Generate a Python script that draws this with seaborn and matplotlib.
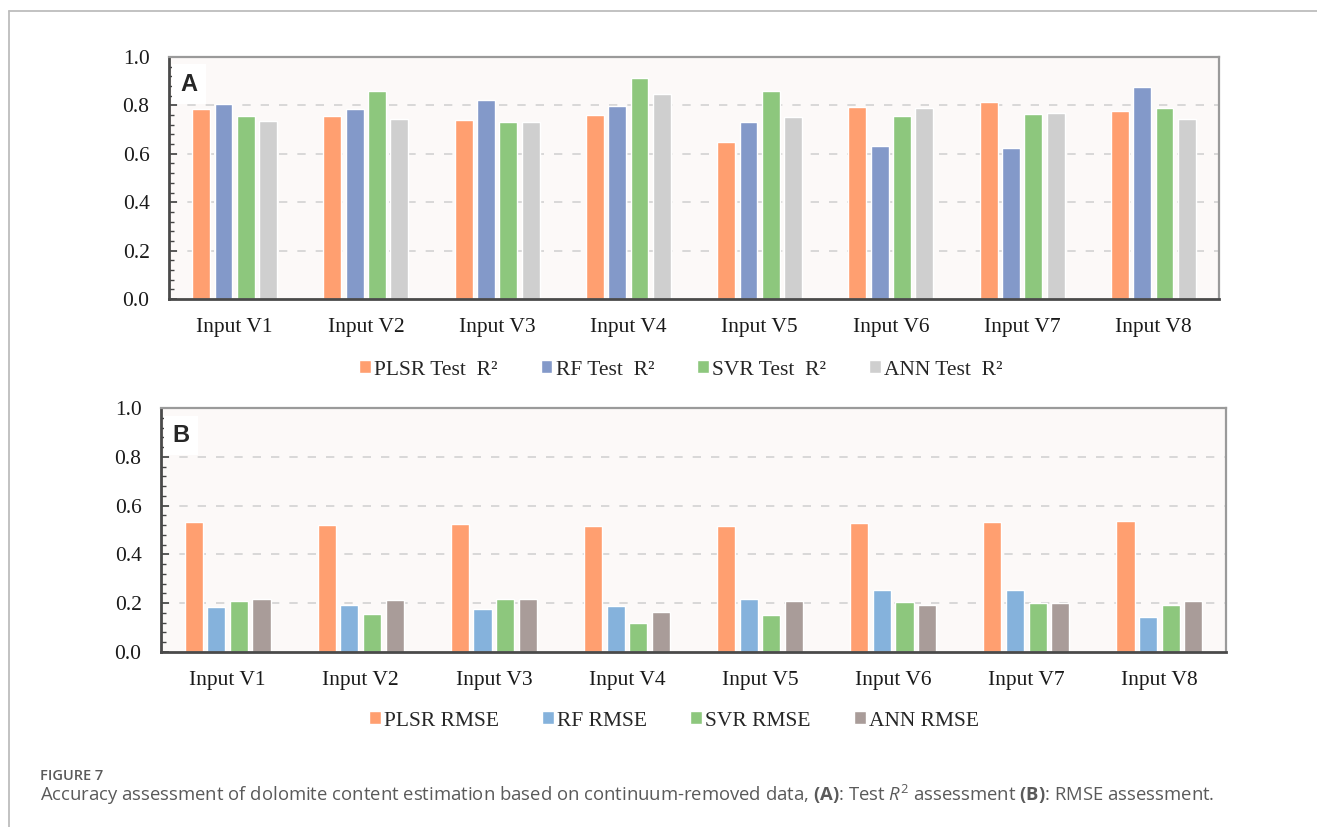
import matplotlib
matplotlib.use("Agg")
import numpy as np
import pandas as pd
import seaborn as sns
import matplotlib.pyplot as plt
from matplotlib.ticker import MultipleLocator
from matplotlib.lines import Line2D

# ---- data -------------------------------------------------------------
inputs = ["Input V1", "Input V2", "Input V3", "Input V4",
          "Input V5", "Input V6", "Input V7", "Input V8"]

r2_models = ["PLSR Test  R²", "RF Test  R²", "SVR Test  R²", "ANN Test  R²"]
plsr_r2 = [0.784, 0.755, 0.739, 0.759, 0.650, 0.792, 0.814, 0.775]
rf_r2 = [0.807, 0.787, 0.821, 0.796, 0.730, 0.634, 0.625, 0.877]
svr_r2 = [0.755, 0.860, 0.732, 0.914, 0.860, 0.755, 0.766, 0.788]
ann_r2 = [0.735, 0.744, 0.730, 0.848, 0.753, 0.789, 0.770, 0.744]

rmse_models = ["PLSR RMSE", "RF RMSE", "SVR RMSE", "ANN RMSE"]
plsr_rmse = [0.531, 0.520, 0.525, 0.517, 0.515, 0.529, 0.534, 0.537]
rf_rmse = [0.183, 0.193, 0.176, 0.189, 0.217, 0.253, 0.255, 0.145]
svr_rmse = [0.208, 0.155, 0.216, 0.120, 0.153, 0.206, 0.202, 0.191]
ann_rmse = [0.216, 0.212, 0.218, 0.163, 0.208, 0.191, 0.199, 0.210]

y_ticks = [0.0, 0.2, 0.4, 0.6, 0.8, 1.0]

r2_colors = ["#FF9F70", "#8399C9", "#8DC77D", "#CFCFCF"]
rmse_colors = ["#FF9F70", "#85B2DC", "#8DC77D", "#A99C99"]


def long_frame(models, series):
    rows = []
    for m, vals in zip(models, series):
        for cat, v in zip(inputs, vals):
            rows.append({"input": cat, "model": m, "value": v})
    return pd.DataFrame(rows)


df_r2 = long_frame(r2_models, [plsr_r2, rf_r2, svr_r2, ann_r2])
df_rmse = long_frame(rmse_models, [plsr_rmse, rf_rmse, svr_rmse, ann_rmse])

# ---- style ------------------------------------------------------------
sns.set_theme(style="white")
plt.rcParams["font.family"] = ["Liberation Serif", "DejaVu Serif"]
plt.rcParams["mathtext.fontset"] = "custom"
plt.rcParams["mathtext.rm"] = "Open Sans"
plt.rcParams["mathtext.it"] = "Open Sans:italic"
plt.rcParams["mathtext.bf"] = "Open Sans:bold"

W, H = 1317, 827
fig = plt.figure(figsize=(W / 100, H / 100), dpi=100)
fig.patch.set_facecolor("white")

ax_a = fig.add_axes([169 / W, 1 - 299 / H, (1219 - 169) / W, (299 - 57) / H])
ax_b = fig.add_axes([161 / W, 1 - 652 / H, (1226 - 161) / W, (652 - 408) / H])


def draw_panel(ax, df, models, colors, letter):
    sns.barplot(data=df, x="input", y="value", hue="model", hue_order=models,
                order=inputs, palette=colors, width=0.68, gap=0.2,
                saturation=1, ax=ax, errorbar=None, legend=True)
    ax.set_facecolor("#FCF9F8")
    ax.set_ylim(0, 1.0)
    ax.set_xlim(-0.5, len(inputs) - 0.5)
    ax.set_yticks(y_ticks)
    ax.set_yticklabels([f"{t:.1f}" for t in y_ticks])
    ax.yaxis.set_minor_locator(MultipleLocator(0.04))
    ax.set_xlabel("")
    ax.set_ylabel("")
    ax.tick_params(axis="y", which="major", direction="in", length=6,
                   width=1.2, color="#444444", labelsize=15.5, pad=14,
                   left=True)
    ax.tick_params(axis="y", which="minor", direction="in", length=3.5,
                   width=1.0, color="#444444", left=True)
    ax.tick_params(axis="x", length=0, labelsize=15.5, pad=14)
    for lbl in ax.get_xticklabels() + ax.get_yticklabels():
        lbl.set_color("#1a1a1a")
    for g in [0.2, 0.4, 0.6, 0.8]:
        ax.axhline(g, color="#D2D2D2", lw=1.2, ls=(0, (5, 6)), zorder=0)
    for side in ["left", "bottom"]:
        ax.spines[side].set_color("#4a4a4a")
        ax.spines[side].set_linewidth(2.0)
    for side in ["top", "right"]:
        ax.spines[side].set_color("#9a9a9a")
        ax.spines[side].set_linewidth(1.6)
    ax.text(0.011, 0.935, letter, transform=ax.transAxes, fontsize=17,
            fontweight="bold", family="Liberation Sans", va="top",
            ha="left", zorder=5,
            bbox=dict(boxstyle="square,pad=0.35", fc="white", ec="none"))
    handles, labels = ax.get_legend_handles_labels()
    ax.get_legend().remove()
    return handles, labels


h_a, l_a = draw_panel(ax_a, df_r2, r2_models, r2_colors, "A")
h_b, l_b = draw_panel(ax_b, df_rmse, rmse_models, rmse_colors, "B")

fig.legend(h_a, l_a, loc="center", bbox_to_anchor=(681 / W, 1 - 370 / H),
           ncol=4, frameon=False, fontsize=15.5, handlelength=0.55,
           handleheight=0.55, handletextpad=0.15, columnspacing=2.0)
fig.legend(h_b, l_b, loc="center", bbox_to_anchor=(674 / W, 1 - 721 / H),
           ncol=4, frameon=False, fontsize=15.5, handlelength=0.55,
           handleheight=0.55, handletextpad=0.15, columnspacing=2.0)

# ---- page frame and caption ------------------------------------------
fig.add_artist(Line2D([9 / W, 1.0], [1 - 11 / H, 1 - 11 / H],
                      transform=fig.transFigure, color="#BDBDBD", lw=1.3))
fig.add_artist(Line2D([9 / W, 9 / W], [1 - 11 / H, 0.0],
                      transform=fig.transFigure, color="#BDBDBD", lw=1.3))

fig.text(40 / W, 1 - 776 / H, "FIGURE 7", family="Open Sans",
         fontsize=10.5, color="#5a5a5a", va="center", ha="left",
         fontweight="semibold")
fig.text(40 / W, 1 - 795 / H,
         r"Accuracy assessment of dolomite content estimation based on "
         r"continuum-removed data, $\mathbf{(A)}$: Test $\mathit{R}^2$ "
         r"assessment $\mathbf{(B)}$: RMSE assessment.",
         family="Open Sans", fontsize=13.3, color="#5a5a5a",
         va="center", ha="left")

fig.savefig("out.png", dpi=100, facecolor="white")
